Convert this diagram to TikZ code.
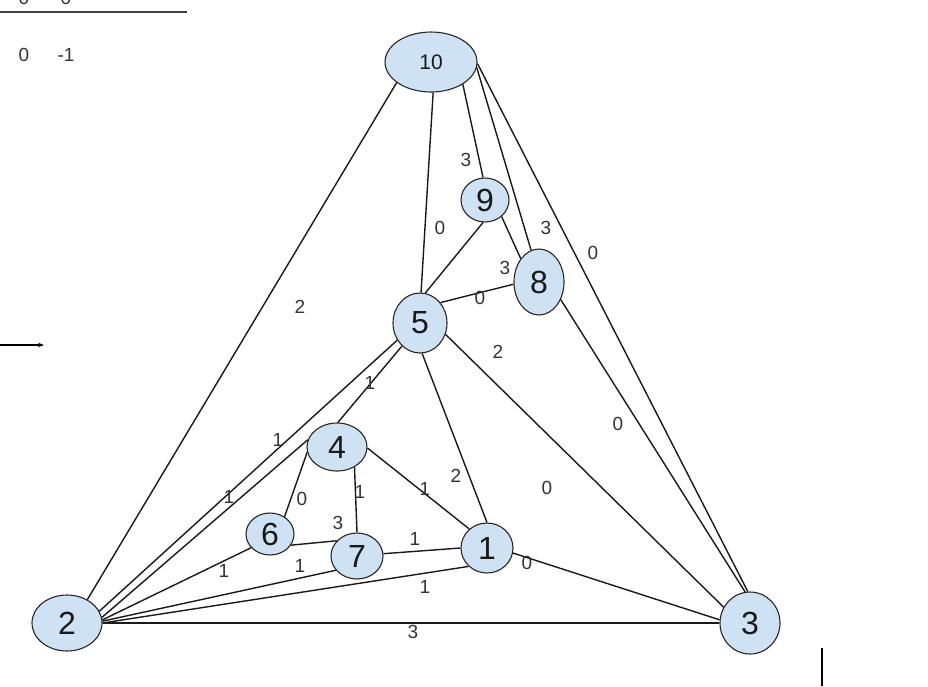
\documentclass[tikz,border=0pt]{standalone}
\usepackage{fontspec}
\setmainfont{Liberation Sans}
\usetikzlibrary{shapes.geometric,arrows.meta}
\definecolor{fillc}{HTML}{CFE2F3}
\begin{document}
\begin{tikzpicture}[x=1pt,y=-1pt,
  vert/.style={draw=black!85,line width=1.1pt,fill=fillc,ellipse,inner sep=0pt,font=\fontsize{32}{32}\selectfont,text=black!90},
  lab/.style={font=\fontsize{19}{19}\selectfont,text=black!80,inner sep=0pt},
  ed/.style={draw=black!90,line width=1.4pt}]
\useasboundingbox (0,0) rectangle (928,686);
\node[vert,minimum width=92pt,minimum height=60pt,font=\fontsize{21}{21}\selectfont] (n10) at (431,62) {10};
\node[vert,minimum width=48pt,minimum height=44pt] (n9) at (485,200) {9};
\node[vert,minimum width=50pt,minimum height=66pt] (n8) at (539,282) {8};
\node[vert,minimum width=54pt,minimum height=60pt] (n5) at (420,323) {5};
\node[vert,minimum width=60pt,minimum height=48pt] (n4) at (337,447) {4};
\node[vert,minimum width=48pt,minimum height=42pt] (n6) at (270,534) {6};
\node[vert,minimum width=52pt,minimum height=46pt] (n7) at (357,556) {7};
\node[vert,minimum width=52pt,minimum height=50pt] (n1) at (487,548) {1};
\node[vert,minimum width=70pt,minimum height=56pt] (n2) at (67,623) {2};
\node[vert,minimum width=60pt,minimum height=62pt] (n3) at (750,623) {3};
\foreach \a/\p/\b/\q in {n10/211/n2/49, n10/274/n5/88, n10/325/n9/95, n10/353/n8/104, n10/358/n3/94,
  n9/265/n5/80, n9/315/n8/128, n5/45/n8/185, n8/321/n3/99, n5/336/n3/149, n5/217/n2/20,
  n5/232/n4/88, n5/274/n1/90, n4/166/n2/9, n4/190/n6/50, n4/311/n7/90, n4/358/n1/133,
  n6/216/n2/5, n6/332/n7/143, n7/214/n2/3, n7/5/n1/180, n2/0/n1/225, n1/349/n3/174, n2/0/n3/180}
  \draw[ed] (\a.\p) -- (\b.\q);
\foreach \t/\x/\y in {2/300/307,0/440/228,3/466/160,3/546/228,0/593/253,3/505/268,0/480/298,0/618/424,2/498/352,0/547/488,1/278/440,1/370/383,2/456/476,1/229/497,0/302/499,1/360/492,1/425/489,1/224/571,3/338/523,1/300/566,1/415/539,1/425/587,0/527/563,3/413/632}
  \node[lab] at (\x,\y) {\t};
\node[lab] (t0) at (24,55) {0};
\node[lab] (t1) at (66,55) {-1};
\node[lab] (t2) at (24,-2) {0};
\node[lab] (t3) at (66,-2) {0};
\coordinate (hl0) at (0,12);
\coordinate (hl1) at (187,12);
\draw[line width=1.4pt,black!75] (hl0) -- (hl1);
\coordinate (ar0) at (0,345);
\coordinate (ar1) at (44,345);
\draw[line width=1.1pt,-{Stealth[length=6pt]}] (ar0) -- (ar1);
\coordinate (vb0) at (822,648);
\coordinate (vb1) at (822,686);
\draw[line width=2.5pt] (vb0) -- (vb1);
\end{tikzpicture}
\end{document}
